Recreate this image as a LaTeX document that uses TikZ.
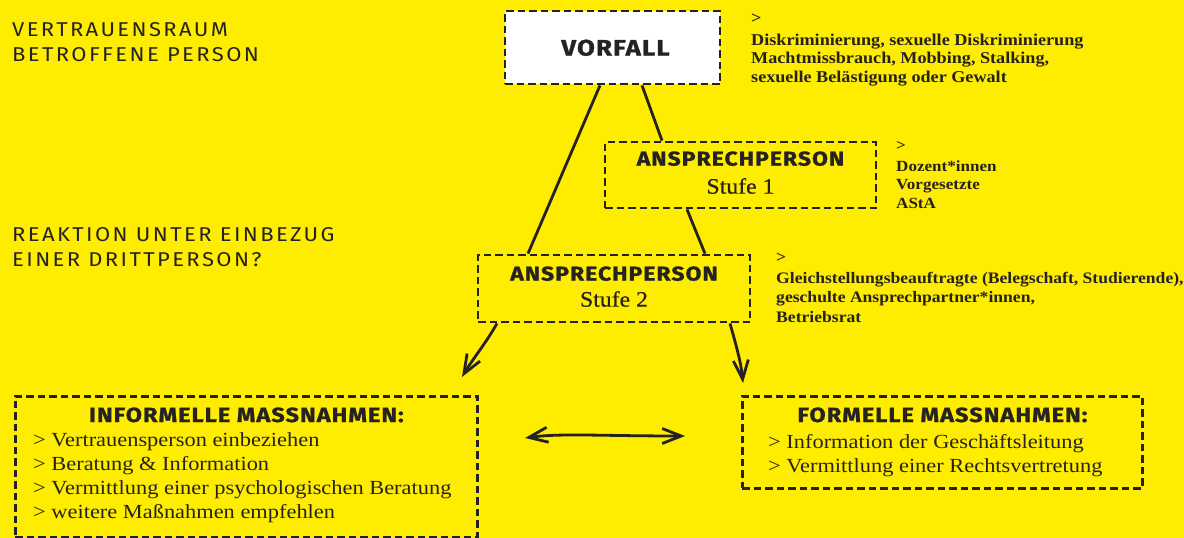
\documentclass[tikz,border=0pt]{standalone}
\usepackage{fontspec}
\setmainfont{Liberation Serif}
\setsansfont{Fira Sans}
\usetikzlibrary{arrows.meta,calc}
\definecolor{bgyellow}{HTML}{FFED00}
\definecolor{ink}{HTML}{262220}
\newcommand{\hdfont}[1]{\fontsize{#1}{#1}\selectfont\sffamily\bfseries\addfontfeatures{FakeStretch=1.15,LetterSpace=5,FakeBold=1.2}}
\tikzset{
  dbox/.style={draw=ink, line width=2.8pt, dash pattern=on 7.5pt off 4pt, inner sep=0pt},
  hd/.style={anchor=base, inner sep=0pt, text=ink},
  desc/.style={anchor=base west, inner sep=0pt, align=left, text=ink},
  items/.style={anchor=base west, inner sep=0pt, align=left, text=ink},
  lbl/.style={anchor=base west, inner sep=0pt, align=left, text=ink, font=\fontsize{20}{24.5}\selectfont\sffamily\addfontfeatures{FakeStretch=1.1,LetterSpace=12}},
  conn/.style={draw=ink, line width=2.8pt},
  arr/.style={draw=ink, line width=2.8pt, -{Straight Barb[length=19pt,width=15pt,line width=2.8pt]}},
  darr/.style={draw=ink, line width=2.8pt, {Straight Barb[length=19pt,width=15pt,line width=2.8pt]}-{Straight Barb[length=19pt,width=15pt,line width=2.8pt]}}
}
\begin{document}
\begin{tikzpicture}[x=1pt,y=-1pt]
\useasboundingbox (0,0) rectangle (1184,538);
\fill[bgyellow] (0,0) rectangle (1184,538);

% left labels (anchored at the baseline of the last line)
\node[lbl] (l1) at (12,61) {VERTRAUENSRAUM\\BETROFFENE PERSON};
\node[lbl] (l2) at (12,266) {REAKTION UNTER EINBEZUG\\EINER DRITTPERSON?};

% boxes
\node[dbox, fill=white, minimum width=215pt, minimum height=73pt] (vorfall) at (612.5,47.5) {};
\node[hd, font=\hdfont{22.5}] (vorfallt) at ($(vorfall.north)+(3,46)$) {VORFALL};

\node[dbox, minimum width=271pt, minimum height=66pt] (s1) at (740.5,175) {};
\node[hd, font=\hdfont{20}] (s1h) at ($(s1.north)+(0,25)$) {ANSPRECHPERSON};
\node[hd, font=\fontsize{22}{22}\selectfont\addfontfeatures{FakeStretch=1.08,FakeBold=0.6}] (s1s) at ($(s1.north)+(0,53)$) {Stufe 1};

\node[dbox, minimum width=272pt, minimum height=67pt] (s2) at (614,288.5) {};
\node[hd, font=\hdfont{20}] (s2h) at ($(s2.north)+(0,27)$) {ANSPRECHPERSON};
\node[hd, font=\fontsize{22}{22}\selectfont\addfontfeatures{FakeStretch=1.08,FakeBold=0.6}] (s2s) at ($(s2.north)+(0,53)$) {Stufe 2};

\node[dbox, minimum width=462pt, minimum height=141pt, anchor=north west] (inf) at (14,395) {};
\node[hd, font=\hdfont{20.5}] (infh) at ($(inf.north)+(0,27)$) {INFORMELLE MASSNAHMEN:};
\node[items, font=\fontsize{20}{23.7}\selectfont\addfontfeatures{FakeStretch=1.12}] (infl) at (33,518)
  {> Vertrauensperson einbeziehen\\> Beratung \& Information\\> Vermittlung einer psychologischen Beratung\\> weitere Maßnahmen empfehlen};

\node[dbox, minimum width=400pt, minimum height=92pt, anchor=north west] (form) at (741,395) {};
\node[hd, font=\hdfont{20.5}] (formh) at ($(form.north)+(0,27)$) {FORMELLE MASSNAHMEN:};
\node[items, font=\fontsize{20}{24}\selectfont\addfontfeatures{FakeStretch=1.12}] (forml) at (768,472)
  {> Information der Geschäftsleitung\\> Vermittlung einer Rechtsvertretung};

% descriptions
\node[desc, font=\fontsize{16.5}{18.5}\selectfont\bfseries\addfontfeatures{FakeStretch=1.1}] (d0) at (751,82)
  {>\\[3.5pt]Diskriminierung, sexuelle Diskriminierung\\Machtmissbrauch, Mobbing, Stalking,\\sexuelle Belästigung oder Gewalt};
\node[desc, font=\fontsize{15.5}{18.5}\selectfont\bfseries\addfontfeatures{FakeStretch=1.1}] (d1) at (896,208)
  {>\\[2.5pt]Dozent*innen\\Vorgesetzte\\AStA};
\node[desc, font=\fontsize{16}{19.5}\selectfont\bfseries\addfontfeatures{FakeStretch=1.1}] (d2) at (776,322)
  {>\\[1.5pt]Gleichstellungsbeauftragte (Belegschaft, Studierende),\\geschulte Ansprechpartner*innen,\\Betriebsrat};

% connectors
\draw[conn] ([xshift=-12.5pt]vorfall.south) -- ([xshift=-86pt]s2.north);
\draw[conn] ([xshift=29.5pt]vorfall.south) -- ([xshift=-78.5pt]s1.north);
\draw[conn] ([xshift=-53.5pt]s1.south) -- ([xshift=91pt]s2.north);

\coordinate (ainf) at (462,377);
\coordinate (aform) at (743,383);
\draw[arr] ([xshift=-117pt]s2.south) .. controls (486,343) and (472,360) .. (ainf);
\draw[arr] ([xshift=116pt]s2.south) .. controls (736,345) and (741,362) .. (aform);

\coordinate (dl) at (525,438);
\coordinate (dr) at (685,436);
\draw[darr] (dl) .. controls (560,433) and (600,436) .. (dr);
\end{tikzpicture}
\end{document}
